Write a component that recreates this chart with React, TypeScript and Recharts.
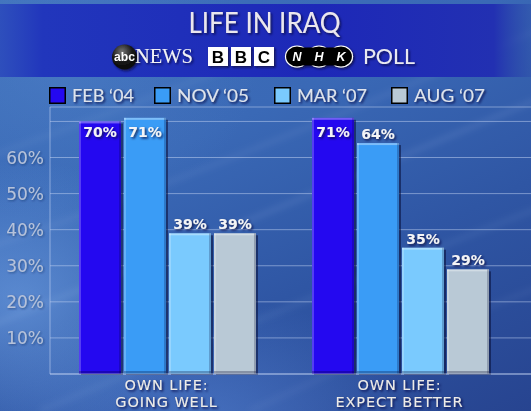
import React from 'react';
import { BarChart, Bar, XAxis, YAxis, CartesianGrid, Legend, LabelList } from 'recharts';

const categories = ['OWN LIFE:\nGOING WELL', 'OWN LIFE:\nEXPECT BETTER'];
const seriesKeys = ['feb04', 'nov05', 'mar07', 'aug07'];
const seriesNames = ['FEB \u201804', 'NOV \u201805', 'MAR \u201807', 'AUG \u201807'];
const feb04 = [70, 71];
const nov05 = [71, 64];
const mar07 = [39, 35];
const aug07 = [39, 29];
const yTicks = [10, 20, 30, 40, 50, 60, 70];
const seriesColors = ['#2408f0', '#3a9cf6', '#7acafe', '#b9c9d6'];

const seriesValues = [feb04, nov05, mar07, aug07];
const data = categories.map((name, i) => {
  const row: any = { name };
  seriesKeys.forEach((k, s) => { row[k] = seriesValues[s][i]; });
  return row;
});

const W = 531;
const H = 411;
const legendX = [49, 154, 274, 391];
const legendTextLen = [62, 72, 70, 71];

const BevelBar = (props: any) => {
  const { x, y, width, height, fill } = props;
  if (!height || height <= 0) return <g />;
  return (
    <g>
      <rect x={x + 2} y={y + 2} width={width} height={height - 1} fill="rgba(5,12,55,0.55)" />
      <rect x={x} y={y} width={width} height={height} fill={fill} />
      <rect x={x} y={y} width={width} height={2} fill="rgba(255,255,255,0.35)" />
      <rect x={x} y={y} width={2} height={height} fill="rgba(255,255,255,0.22)" />
      <rect x={x + width - 2} y={y} width={2} height={height} fill="rgba(0,0,40,0.22)" />
      <rect x={x} y={y + height - 3} width={width} height={3} fill="rgba(0,0,40,0.28)" />
    </g>
  );
};

const ValueLabel = (props: any) => {
  const { x, y, width, value } = props;
  const base = Math.max(y - 4, 137);
  return (
    <text
      x={x + width / 2}
      y={base}
      textAnchor="middle"
      fill="#f4f4f6"
      fontFamily="'DejaVu Sans', sans-serif"
      fontSize={14}
      fontWeight="bold"
      filter="url(#ts)"
    >
      {`${value}%`}
    </text>
  );
};

const CategoryTick = (props: any) => {
  const { x, y, payload } = props;
  const lines = String(payload.value).split('\n');
  return (
    <text
      x={x}
      y={y + 16}
      textAnchor="middle"
      fill="#eeebe8"
      fontFamily="'DejaVu Sans', sans-serif"
      fontSize={14.5}
      letterSpacing={0.9}
      filter="url(#ts)"
    >
      {lines.map((l, i) => (
        <tspan key={i} x={x} dy={i === 0 ? 0 : 17}>
          {l}
        </tspan>
      ))}
    </text>
  );
};

const YTick = (props: any) => {
  const { x, y, payload } = props;
  if (payload.value >= 70) return <g />;
  return (
    <text
      x={x}
      y={y}
      dy="0.36em"
      textAnchor="end"
      fill="#b6c2da"
      fontFamily="'DejaVu Sans', sans-serif"
      fontSize={17}
      filter="url(#ts2)"
    >
      {`${payload.value}%`}
    </text>
  );
};

const LegendContent = (props: any) => {
  const payload = [...(props.payload || [])].sort(
    (a: any, b: any) => seriesNames.indexOf(a.value) - seriesNames.indexOf(b.value)
  );
  return (
    <svg width={W} height={22} style={{ display: 'block', overflow: 'visible' }}>
      {payload.map((p: any, i: number) => (
        <g key={i}>
          <rect x={legendX[i] + 0.75} y={3.75} width={15.5} height={15.5} fill={p.color} stroke="#000" strokeWidth={1.5} />
          <text
            x={legendX[i] + 23}
            y={17.5}
            fill="#dfe3ec"
            fontFamily="Lato, sans-serif"
            fontSize={17.6}
            textLength={legendTextLen[i]}
            lengthAdjust="spacingAndGlyphs"
            filter="url(#ts)"
          >
            {p.value}
          </text>
        </g>
      ))}
    </svg>
  );
};

const Header = () => (
  <svg width={W} height={H} style={{ position: 'absolute', left: 0, top: 0 }}>
    <defs>
      <filter id="ts" x="-20%" y="-40%" width="150%" height="200%">
        <feDropShadow dx="1.5" dy="1.5" stdDeviation="1" floodColor="#081040" floodOpacity="0.85" />
      </filter>
      <filter id="ts2" x="-20%" y="-40%" width="150%" height="200%">
        <feDropShadow dx="1" dy="1" stdDeviation="0.8" floodColor="#102050" floodOpacity="0.5" />
      </filter>
      <filter id="blur6">
        <feGaussianBlur stdDeviation="3" />
      </filter>
      <linearGradient id="band" x1="0" y1="0" x2="1" y2="0">
        <stop offset="0" stopColor="#2a48bc" stopOpacity="0.85" />
        <stop offset="0.08" stopColor="#2136bc" />
        <stop offset="0.6" stopColor="#1d28b8" />
        <stop offset="0.93" stopColor="#2230b2" />
        <stop offset="1" stopColor="#2a48a8" stopOpacity="0.4" />
      </linearGradient>
      <radialGradient id="abc" cx="0.4" cy="0.3" r="0.8">
        <stop offset="0" stopColor="#777" />
        <stop offset="0.5" stopColor="#1a1a1a" />
        <stop offset="1" stopColor="#000" />
      </radialGradient>
    </defs>
    <g filter="url(#blur6)" fill="none" stroke="#cfe0ff">
      <path d="M -20 330 Q 180 250 560 90" strokeWidth="5" strokeOpacity="0.10" />
      <path d="M -20 250 Q 220 170 560 20" strokeWidth="4" strokeOpacity="0.09" />
      <path d="M 40 411 Q 300 300 560 200" strokeWidth="5" strokeOpacity="0.08" />
      <path d="M -20 160 Q 120 110 300 40" strokeWidth="3" strokeOpacity="0.10" />
      <path d="M 250 411 Q 420 330 560 280" strokeWidth="4" strokeOpacity="0.07" />
    </g>
    <rect x={0} y={4} width={W} height={73} fill="url(#band)" />
    <text
      x={264.5}
      y={33.3}
      textAnchor="middle"
      fill="#ebe7ee"
      fontFamily="Lato, sans-serif"
      fontSize={28}
      textLength={152}
      lengthAdjust="spacingAndGlyphs"
      filter="url(#ts)"
    >
      LIFE IN IRAQ
    </text>
    <g filter="url(#ts)">
      <circle cx={124.5} cy={57} r={12.5} fill="url(#abc)" />
      <text x={124.5} y={61} textAnchor="middle" fill="#fff" fontFamily="'Liberation Sans', sans-serif" fontWeight="bold" fontSize={12} textLength={21} lengthAdjust="spacingAndGlyphs">
        abc
      </text>
      <text x={135} y={63.3} fill="#f2f2f6" fontFamily="'Liberation Serif', serif" fontSize={20} textLength={58} lengthAdjust="spacingAndGlyphs">
        NEWS
      </text>
      {['B', 'B', 'C'].map((ch, i) => (
        <g key={i}>
          <rect x={208 + i * 23} y={47} width={20} height={19} fill="#fff" />
          <text x={218 + i * 23} y={63} textAnchor="middle" fill="#000" fontFamily="'Liberation Sans', sans-serif" fontWeight="bold" fontSize={17}>
            {ch}
          </text>
        </g>
      ))}
      <g>
        <ellipse cx={297} cy={56.5} rx={11.5} ry={10.5} fill="#000" stroke="#fff" strokeWidth={1.2} />
        <ellipse cx={319} cy={56.5} rx={11.5} ry={10.5} fill="#000" stroke="#fff" strokeWidth={1.2} />
        <ellipse cx={341} cy={56.5} rx={11.5} ry={10.5} fill="#000" stroke="#fff" strokeWidth={1.2} />
        <rect x={297} y={47.5} width={44} height={18} fill="#000" />
        {['N', 'H', 'K'].map((ch, i) => (
          <text key={i} x={297 + i * 22} y={61} textAnchor="middle" fill="#fff" fontFamily="'Liberation Sans', sans-serif" fontWeight="bold" fontStyle="italic" fontSize={12.5}>
            {ch}
          </text>
        ))}
      </g>
      <text x={363} y={63.5} fill="#e9e9f1" fontFamily="Lato, sans-serif" fontSize={21.5} textLength={52} lengthAdjust="spacingAndGlyphs">
        POLL
      </text>
    </g>
  </svg>
);

export default function App() {
  return (
    <div
      style={{
        position: 'absolute',
        left: 0,
        top: 0,
        width: W,
        height: H,
        overflow: 'hidden',
        background:
          'radial-gradient(ellipse 180px 140px at 20px 300px, rgba(120,170,235,0.55), rgba(120,170,235,0) 100%),' +
          'radial-gradient(ellipse 240px 120px at 200px 420px, rgba(100,150,230,0.45), rgba(100,150,230,0) 100%),' +
          'radial-gradient(ellipse 200px 160px at 60px 60px, rgba(90,140,210,0.35), rgba(90,140,210,0) 100%),' +
          'linear-gradient(155deg, #3e70ba 0%, #3a69b6 35%, #2f56a4 65%, #274490 100%)',
      }}
    >
      <Header />
      <div style={{ position: 'absolute', left: 0, top: 0 }}>
        <BarChart
          width={W}
          height={H}
          data={data}
          margin={{ top: 107, right: 0, bottom: 0, left: 0 }}
          barCategoryGap={29}
          barGap={3}
        >
          <CartesianGrid vertical={false} stroke="rgba(200,215,245,0.5)" strokeWidth={1} />
          <XAxis
            dataKey="name"
            height={37}
            tickLine={false}
            tickSize={0}
            tickMargin={0}
            interval={0}
            padding={{ left: 0, right: 15 }}
            axisLine={{ stroke: 'rgba(200,215,245,0.6)' }}
            tick={<CategoryTick />}
          />
          <YAxis
            width={50}
            domain={[0, 74]}
            ticks={yTicks}
            tickLine={false}
            tickSize={0}
            tickMargin={6}
            axisLine={{ stroke: 'rgba(200,215,245,0.55)' }}
            tick={<YTick />}
          />
          <Legend
            layout="horizontal"
            verticalAlign="middle"
            align="center"
            content={<LegendContent />}
            wrapperStyle={{ top: 84, left: 0, width: W, height: 22 }}
          />
          {seriesKeys.map((k, i) => (
            <Bar
              key={k}
              dataKey={k}
              name={seriesNames[i]}
              fill={seriesColors[i]}
              shape={<BevelBar />}
              isAnimationActive={false}
            >
              <LabelList dataKey={k} content={<ValueLabel />} />
            </Bar>
          ))}
        </BarChart>
      </div>
    </div>
  );
}
